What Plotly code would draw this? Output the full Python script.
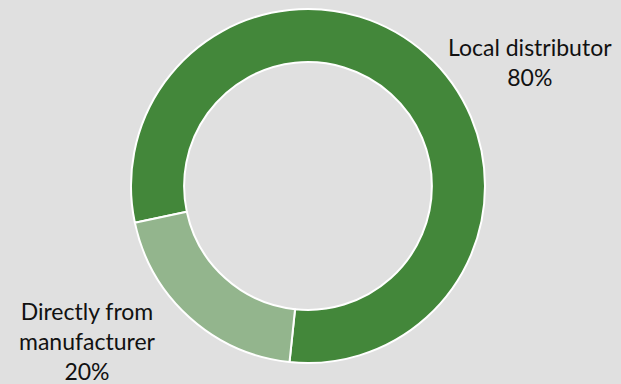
import plotly.graph_objects as go

# Purchase channel shares
channels = ["Local distributor", "Directly from manufacturer"]
shares = [80, 20]
colors = ["#43873A", "#93B58D"]
label_lines = [["Local distributor"], ["Directly from", "manufacturer"]]

W, H = 621, 384
cx, cy, r = 308, 186, 177  # pixel center / outer radius of the ring

fig = go.Figure(
    go.Pie(
        labels=channels,
        values=shares,
        hole=0.70,
        sort=False,
        direction="clockwise",
        rotation=258,
        marker=dict(colors=colors, line=dict(color="white", width=2)),
        textinfo="none",
        hoverinfo="label+percent",
        domain=dict(x=[(cx - r) / W, (cx + r) / W],
                    y=[(H - cy - r) / H, (H - cy + r) / H]),
        showlegend=False,
    )
)

# Category labels with percentages, placed beside their slices
label_pos = [(530, 62), (87, 341)]
for lines, val, (px, py) in zip(label_lines, shares, label_pos):
    fig.add_annotation(
        x=px / W, y=1 - py / H, xref="paper", yref="paper",
        xanchor="center", yanchor="middle",
        text="<br>".join(lines + [f"{val}%"]),
        showarrow=False, align="center",
        font=dict(family="Lato", size=23, color="#111111"),
    )

fig.update_layout(
    width=W, height=H,
    margin=dict(l=0, r=0, t=0, b=0),
    paper_bgcolor="#E0E0E0",
    plot_bgcolor="#E0E0E0",
)

fig.write_html("out.html")
